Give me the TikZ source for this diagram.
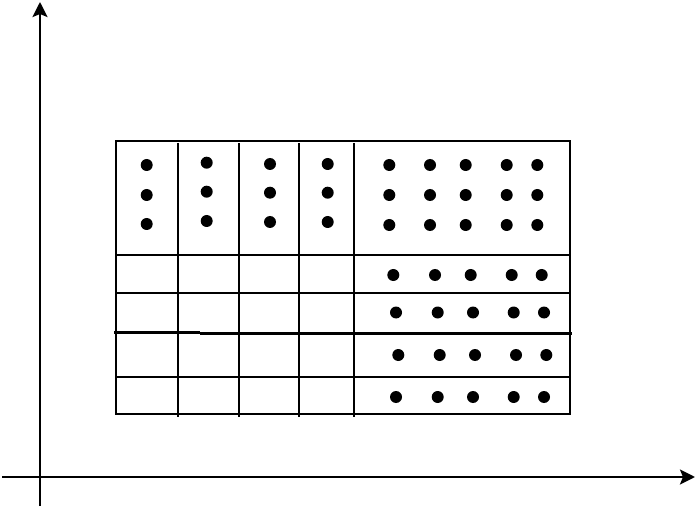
\documentclass[tikz,border=0pt]{standalone}
\usetikzlibrary{arrows.meta}
\begin{document}
\begin{tikzpicture}[x=1pt,y=-1pt,
  ln/.style={line width=2.6pt,black},
  axis/.style={line width=2.6pt,black,-{Stealth[length=15pt,width=15pt,inset=3pt]}},
  dot/.style={fill=black}]
\useasboundingbox (0,0) rectangle (697,508);
% axes
\coordinate (yb) at (40,506);
\coordinate (yt) at (40,2);
\coordinate (xl) at (2,477);
\coordinate (xr) at (695,477);
\draw[axis] (yb) -- (yt);
\draw[axis] (xl) -- (xr);
% outer box
\draw[ln] (116,141) rectangle (570,414);
% vertical lines
\foreach \x in {178,239,299,354} \draw[ln] (\x,143) -- (\x,417);
% horizontal lines
\draw[ln] (116,255) -- (570,255);
\draw[ln] (116,293) -- (570,293);
\draw[ln] (114,332.7) -- (200,332.7);
\draw[ln] (200,333.7) -- (572,333.7);
\draw[ln] (116,377) -- (570,377);
% top-left dots
\foreach \x/\a/\b/\c in {146.7/165/195/224, 206.7/162.7/191.7/221, 270/164/192.7/222, 327.7/164/192.7/222}{
  \fill[dot] (\x,\a) circle (6pt);
  \fill[dot] (\x,\b) circle (6pt);
  \fill[dot] (\x,\c) circle (6pt);
}
% top-right dots
\foreach \y in {165,195,225}
  \foreach \x in {389.3,430,465.7,506.7,537.3}
    \fill[dot] (\x,\y) circle (6pt);
% bottom-right rows
\foreach \x in {393.3,435,470.7,511.7,541.7} \fill[dot] (\x,275) circle (6pt);
\foreach \x in {396,437.7,473,513.7,544} \fill[dot] (\x,312.5) circle (6pt);
\foreach \x in {398.3,439.7,475,516,546.3} \fill[dot] (\x,355) circle (6pt);
\foreach \x in {396,437.7,473,513.7,544} \fill[dot] (\x,397) circle (6pt);
\end{tikzpicture}
\end{document}
